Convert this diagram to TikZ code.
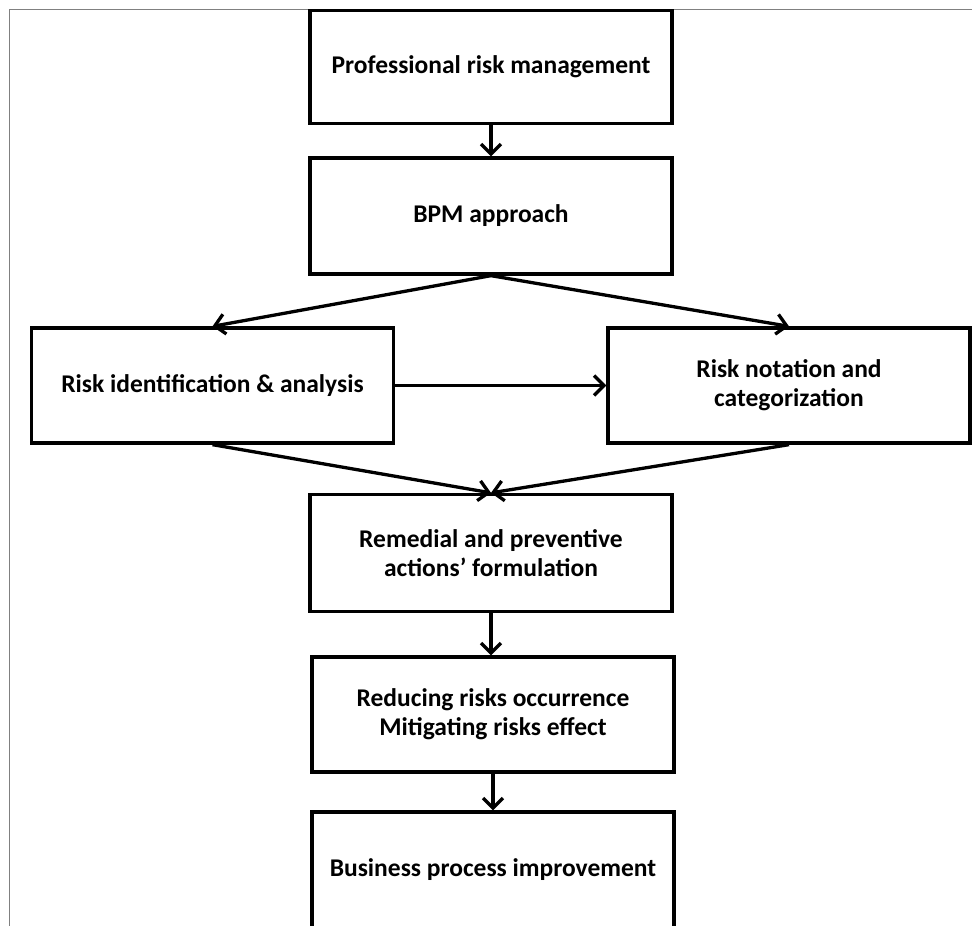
\documentclass[tikz,border=0pt]{standalone}
\usepackage{fontspec}
\setmainfont{Carlito}
\usepackage{tikz}
\usetikzlibrary{shapes,arrows,positioning,calc,shadows,arrows.meta}

\begin{document}
\begin{tikzpicture}[x=1pt,y=-1pt,
        stagebox/.style={draw, line width=3.3pt, fill=white, align=center,
            minimum width=362pt, minimum height=115pt, inner sep=0pt,
            font=\bfseries\fontsize{25.5}{29}\selectfont,
            drop shadow={shadow xshift=1.5pt, shadow yshift=-1.5pt, opacity=0.35}},
        flow/.style={line width=3.3pt, -{Straight Barb[length=10pt,width=20pt,line width=3.3pt]}}]
    \useasboundingbox (0,0) rectangle (972,926);

    % Frame
    \coordinate (frameR) at (972,9);
    \coordinate (frameC) at (9,9);
    \coordinate (frameB) at (9,926);
    \draw[gray, line width=1pt] (frameR) -- (frameC) -- (frameB);

    % Main column
    \node[stagebox, minimum height=113pt] (prm) at (491,67) {Professional risk management};
    \node[stagebox, minimum height=116pt] (bpm) at (491,216) {BPM approach};

    % Side by side
    \node[stagebox] (ria) at (212.5,385.5) {Risk identification \& analysis};
    \node[stagebox] (rnc) at (789,385.5) {Risk notation and\\categorization};

    % Lower column
    \node[stagebox, minimum height=117pt] (rem) at (491,553) {Remedial and preventive\\actions’ formulation};
    \node[stagebox] (red) at (493,714.5) {Reducing risks occurrence\\Mitigating risks effect};
    \node[stagebox, minimum height=116pt] (bpi) at (493,870) {Business process improvement};

    % Connectors
    \draw[flow] (prm.south) -- (bpm.north);
    \draw[flow] (bpm.south) -- (ria.north);
    \draw[flow] (bpm.south) -- (rnc.north);
    \draw[flow] (ria.east) -- (rnc.west);
    \draw[flow] (ria.south) -- (rem.north);
    \draw[flow] (rnc.south) -- (rem.north);
    \draw[flow] (rem.south) -- (rem.south |- red.north);
    \draw[flow] (red.south) -- (bpi.north);
\end{tikzpicture}
\end{document}
